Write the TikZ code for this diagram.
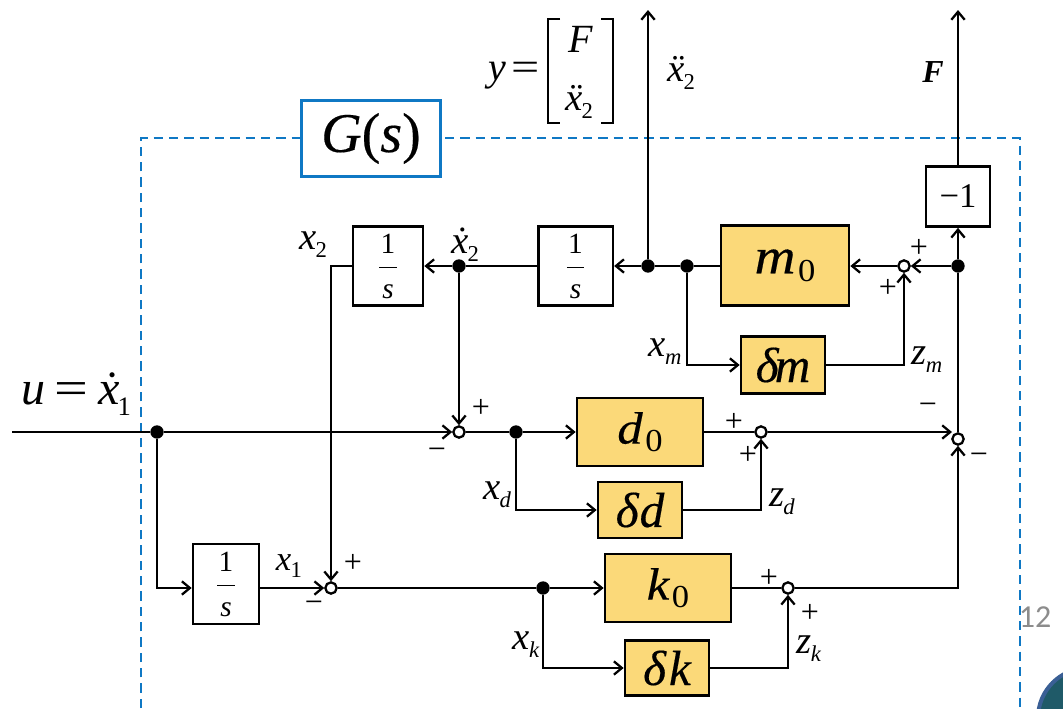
\documentclass[tikz,border=0pt]{standalone}
\usepackage{fontspec}
\setmainfont{Liberation Serif}
\newfontfamily\pagenumfont{Carlito}
\newfontface\heavyit{Liberation Serif Italic}[FakeBold=0.3]
\newfontface\heavyrm{Liberation Serif}[FakeBold=0.3]
\usetikzlibrary{arrows.meta,positioning}
\definecolor{boxyellow}{HTML}{FBD979}
\definecolor{gblue}{HTML}{0F78C4}
\definecolor{cornerfill}{HTML}{1F5A68}
\definecolor{corneredge}{HTML}{3A5F95}
\newcommand{\fs}[1]{\fontsize{#1}{#1}\selectfont}
\newcommand{\vs}[2]{\textit{#1}\kern-.02em\raisebox{-.21em}{\fontsize{17}{17}\selectfont #2}}
\newcommand{\vsb}[2]{\textit{#1}\kern-.04em\raisebox{-.24em}{\fontsize{20}{20}\selectfont #2}}
\newcommand{\fracS}{\raisebox{-6pt}[0pt][0pt]{\fontsize{22}{24}\selectfont\setlength{\tabcolsep}{1pt}\setlength{\arrayrulewidth}{.6pt}\renewcommand{\arraystretch}{1.4}\begin{tabular}{c}1\\\hline\textit{s}\end{tabular}}}
% coefficient: font size, letter, subscript
\newcommand{\coef}[3]{\raisebox{4pt}{\scalebox{1.12}[1]{\heavyit\fs{#1}#2}\kern2pt\raisebox{-6pt}{\scalebox{1.08}[1]{\rmfamily\fs{24}#3}}}}
% delta block: kern, letter
\newcommand{\delt}[2]{{\heavyit\fs{37}δ\kern#1em #2}}
\tikzset{
  conn/.style={line width=2pt},
  arr/.style={conn,-{Straight Barb[length=6pt,width=10pt,line width=1.7pt]}},
  plain/.style={draw,line width=2pt,fill=white,inner sep=0pt,anchor=center},
  yel/.style={plain,fill=boxyellow},
  dot/.style={circle,fill=black,inner sep=0pt,minimum size=10pt},
  sumj/.style={circle,draw,line width=1.7pt,fill=white,inner sep=0pt,minimum size=8.5pt},
  lab/.style={inner sep=0pt,font=\fs{29}},
  sgn/.style={inner sep=0pt,font=\fs{24}},
}
\begin{document}
\begin{tikzpicture}[x=0.75pt,y=-0.75pt]
\useasboundingbox (0,0) rectangle (1063,708);
\clip (0,0) rectangle (1063,708);
% corner and page number
\draw[fill=cornerfill,draw=corneredge,line width=3pt] (1088,718) circle[radius=37.5pt*1];
\node[inner sep=0pt,text=black!45,font=\pagenumfont\fs{24}] (pagenum) at (1035,617) {12};
% dashed frame
\draw[gblue,line width=1.8pt,dash pattern=on 7pt off 4.5pt] (141,708) -- (141,138) -- (1020,138) -- (1020,708);
\node[draw=gblue,line width=1.8pt,fill=white,minimum width=104pt,minimum height=57pt,inner sep=0pt] (G) at (371,138.5) {\raisebox{-3pt}{\heavyit\fs{42}G{\heavyrm(}s{\heavyrm)}}};
% blocks
\node[plain,minimum width=52.5pt,minimum height=59pt] (intL) at (388,266) {\fracS};
\node[plain,minimum width=56pt,minimum height=59pt] (intM) at (575.5,266) {\fracS};
\node[plain,minimum width=49.5pt,minimum height=60pt] (intB) at (226,584) {\fracS};
\node[plain,minimum width=48pt,minimum height=45pt,font=\fs{26}] (neg) at (958,196.5) {−1};
\node[yel,minimum width=96pt,minimum height=60pt] (m0) at (785,265.5) {\coef{38}{m}{0}};
\node[yel,minimum width=63pt,minimum height=43pt] (dm) at (783,365) {\delt{-.08}{m}};
\node[yel,minimum width=94.5pt,minimum height=51pt] (d0) at (640,432) {\coef{34}{d}{0}};
\node[yel,minimum width=63pt,minimum height=42pt] (dd) at (640,510) {\delt{.02}{d}};
\node[yel,minimum width=94.5pt,minimum height=51pt] (k0) at (668,588) {\coef{34}{k}{0}};
\node[yel,minimum width=63pt,minimum height=41pt] (dk) at (667,668) {\delt{.06}{k}};
% junctions
\node[dot] (J1) at (459,266) {};
\node[dot] (J2) at (648,266) {};
\node[dot] (J3) at (687,266) {};
\node[dot] (J4) at (958,266) {};
\node[dot] (J5) at (157,432) {};
\node[dot] (J6) at (516,432) {};
\node[dot] (J7) at (543,588) {};
\node[sumj] (S1) at (904,266) {};
\node[sumj] (S2) at (459,432) {};
\node[sumj] (S3) at (761,432) {};
\node[sumj] (S4) at (958,439) {};
\node[sumj] (S5) at (331,588) {};
\node[sumj] (S6) at (788,588) {};
% free ends
\coordinate (inL) at (12,432);
\coordinate (topA) at (648,10);
\coordinate (topF) at (958,10);
\coordinate (S4in) at (952,432);
% connectors
\draw[arr] (J4) -- (S1);
\draw[arr] (S1) -- (m0.east |- S1);
\draw[conn] (m0.west |- J3) -- (J3);
\draw[conn] (J3) -- (J2);
\draw[arr] (J2) -- (intM);
\draw[conn] (intM) -- (J1);
\draw[arr] (J1) -- (intL);
\draw[arr] (J2) -- (topA);
\draw[arr] (J3) |- (dm);
\draw[arr] (dm) -| (S1);
\draw[arr] (J1) -- (S2);
\draw[conn] (inL) -- (J5);
\draw[arr] (J5) -- (S2);
\draw[conn] (S2) -- (J6);
\draw[arr] (J6) -- (d0);
\draw[conn] (d0) -- (S3);
\draw[arr] (J6) |- (dd);
\draw[arr] (dd) -| (S3);
\draw[arr] (S3) -- (S4in);
\draw[conn] (S4) -- (J4);
\draw[arr] (J4) -- (neg);
\draw[arr] (neg) -- (topF);
\draw[arr] (J5) |- (intB.west |- S5);
\draw[arr] (intB.east |- S5) -- (S5);
\draw[arr] (intL.west) -| (S5);
\draw[conn] (S5) -- (J7);
\draw[arr] (J7) -- (k0);
\draw[conn] (k0) -- (S6);
\draw[arr] (J7) |- (dk);
\draw[arr] (dk) -| (S6);
\draw[arr] (S6) -| (S4);
% y = [...]
\node[inner sep=0pt,font=\fs{30}] (yeq) at (514,76) {\textit{y}\kern.14em\scalebox{1.25}[1]{=}};
\draw[line width=1.2pt] (560,19) -- (548,19) -- (548,123) -- (560,123);
\draw[line width=1.2pt] (601,19) -- (613,19) -- (613,123) -- (601,123);
\node[inner sep=0pt,font=\fs{30}] (yF) at (581,39) {\textit{F}};
\node[inner sep=0pt,font=\fs{29}] (yx) at (579,102) {\vs{ẍ}{2}};
% labels
\node[lab] (lxddot) at (681,73) {\vs{ẍ}{2}};
\node[lab,font=\fs{24}] (lF) at (933,72) {\textit{\textbf{F}}};
\node[lab] (lx2) at (313,245) {\vs{x}{2}};
\node[lab] (lxd2) at (465,245) {\vs{ẋ}{2}};
\node[lab,font=\fs{26}] (lx1) at (289,566) {\vs{x}{1}};
\node[lab] (lxm) at (665,352) {\vs{x}{\textit{m}}};
\node[lab] (lzm) at (927,360) {\vs{z}{\textit{m}}};
\node[lab] (lxd) at (497,495) {\vs{x}{\textit{d}}};
\node[lab] (lzd) at (782,502) {\vs{z}{\textit{d}}};
\node[lab] (lxk) at (526,645) {\vs{x}{\textit{k}}};
\node[lab] (lzk) at (809,649) {\vs{z}{\textit{k}}};
\node[inner sep=0pt,font=\fs{36}] (lu) at (76,394) {\textit{u}\kern.2em\scalebox{1.25}[1]{=}\kern.2em\vsb{ẋ}{1}};
% signs
\node[sgn] (p1) at (481,408) {+};
\node[sgn] (m1) at (437,454) {−};
\node[sgn] (p2) at (734,422) {+};
\node[sgn] (p3) at (748,455) {+};
\node[sgn] (m2) at (928,409) {−};
\node[sgn] (m3) at (979,459) {−};
\node[sgn] (p4) at (919,248) {+};
\node[sgn] (p5) at (888,288) {+};
\node[sgn] (p6) at (353,563) {+};
\node[sgn] (m4) at (314,607) {−};
\node[sgn] (p7) at (769,578) {+};
\node[sgn] (p8) at (810,613) {+};
\end{tikzpicture}
\end{document}
